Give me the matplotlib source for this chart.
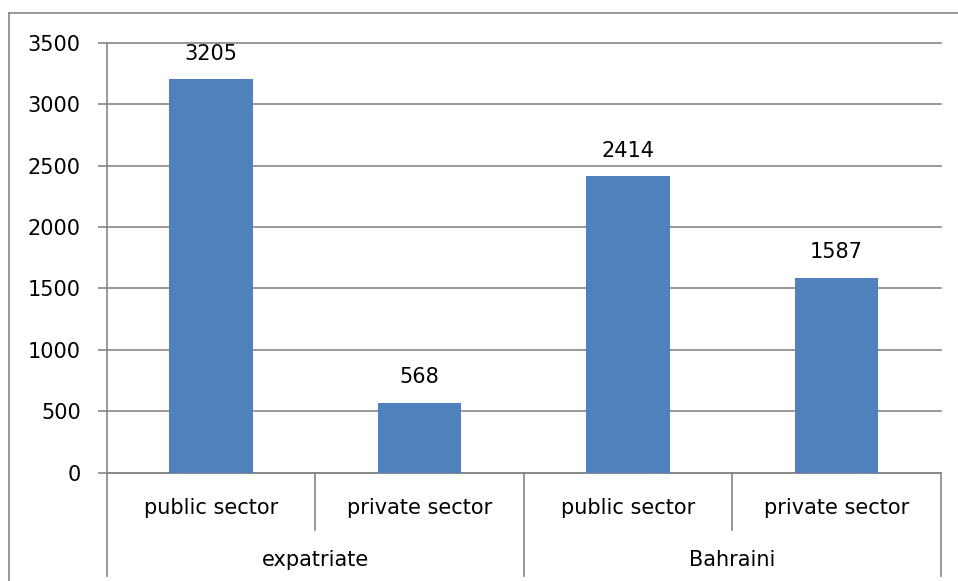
import matplotlib.pyplot as plt
from matplotlib.lines import Line2D

# Employees by nationality and sector
groups = ['expatriate', 'Bahraini']
sectors = ['public sector', 'private sector']
values = [3205, 568, 2414, 1587]

bar_color = '#4F81BD'
line_color = '#868686'

plt.rcParams['font.family'] = 'DejaVu Sans'
plt.rcParams['font.size'] = 15

fig = plt.figure(figsize=(9.58, 5.81), dpi=100)
ax = fig.add_axes([0.1112, 0.1867, 0.8708, 0.7398])

x = list(range(len(values)))
bars = ax.bar(x, values, width=0.4, color=bar_color, zorder=3)
for b, v in zip(bars, values):
    ax.annotate(str(v), (b.get_x() + b.get_width() / 2, v),
                xytext=(0, 11), textcoords='offset points',
                ha='center', va='bottom', fontsize=15)

ax.set_xlim(-0.5, len(values) - 0.5)
ax.set_ylim(0, 3500)
ax.set_yticks(range(0, 3501, 500))
ax.yaxis.grid(True, color=line_color, linewidth=1.2, zorder=0)
for gl in ax.get_ygridlines():
    gl.set_clip_on(False)
ax.tick_params(axis='y', length=6.5, width=1.2, color=line_color, pad=12,
               labelsize=15)
ax.tick_params(axis='x', bottom=False, labelbottom=False)

for side in ['top', 'right']:
    ax.spines[side].set_visible(False)
for side in ['left', 'bottom']:
    ax.spines[side].set_color(line_color)
    ax.spines[side].set_linewidth(1.2)

# two-level category axis
tr = ax.get_xaxis_transform()
n_sub = len(sectors)
for i, v in enumerate(values):
    ax.text(i, -0.083, sectors[i % n_sub], transform=tr,
            ha='center', va='center', fontsize=15)
for g, name in enumerate(groups):
    ax.text(g * n_sub + (n_sub - 1) / 2, -0.204, name, transform=tr,
            ha='center', va='center', fontsize=15)
for k in range(len(values) + 1):
    xs = k - 0.5
    bottom = -0.241 if k % n_sub == 0 else -0.134
    ax.plot([xs, xs], [0, bottom], transform=tr, color=line_color,
            linewidth=1.2, clip_on=False)

# chart border
fig.add_artist(Line2D([0.0099, 1.0], [0.9776, 0.9776], color=line_color,
                      linewidth=1.2, transform=fig.transFigure))
fig.add_artist(Line2D([0.0099, 0.0099], [0.0, 0.9776], color=line_color,
                      linewidth=1.2, transform=fig.transFigure))

fig.savefig('out.png', dpi=100)
